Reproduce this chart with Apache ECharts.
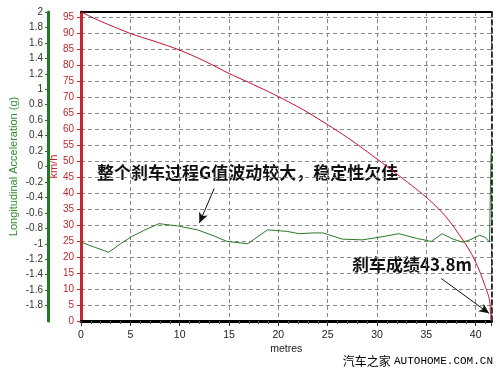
<!DOCTYPE html>
<html><head><meta charset="utf-8">
<script src="https://cdn.jsdelivr.net/npm/echarts@6/dist/echarts.min.js"></script>
<style>html,body{margin:0;padding:0;background:#fff}#c{width:500px;height:370px}</style>
</head><body><div id="c"></div>
<script>
// distance (m) vs speed (km/h)
const speedDist = [0, 2, 5, 7.5, 10, 12.5, 15, 17, 19, 21, 23, 25, 27, 28.5, 30.6, 32.3, 33.9, 35.3, 37, 38.7, 39.6, 40.35, 41, 41.4, 41.5, 41.55];
const speedVals = [96.5, 93.6, 89.8, 87.3, 84.6, 81.2, 77.3, 74.5, 71.6, 68.5, 65.1, 61.3, 57.3, 54.0, 49.2, 45.2, 41.4, 37.8, 32.5, 25.3, 20.8, 15.9, 10.5, 6.6, 2.4, 0];
// distance (m) vs longitudinal acceleration (g)
const gDist = [0, 1.5, 2.8, 4, 5.1, 6.5, 7.9, 9.8, 11.8, 13.5, 14.8, 16.9, 18.9, 20.9, 22.1, 23.5, 24.5, 26.5, 28.5, 30.5, 32.2, 34, 35.5, 36.6, 37.7, 38.7, 39.4, 40.4, 41.0, 41.4, 41.55];
const gVals = [-0.98, -1.05, -1.11, -1.0, -0.91, -0.82, -0.74, -0.77, -0.82, -0.90, -0.97, -1.0, -0.82, -0.84, -0.87, -0.86, -0.86, -0.94, -0.95, -0.91, -0.87, -0.93, -0.97, -0.87, -0.94, -0.98, -0.95, -0.89, -0.92, -0.98, 0.17];
const xTicks = [0, 5, 10, 15, 20, 25, 30, 35, 40];
const annoG = '整个刹车过程G值波动较大，稳定性欠佳';
const annoDist = '刹车成绩43.8m';
const arrowG = [[13.5, -0.285], [12.0, -0.73]];
const arrowDist = [[36.5, 13.3], [41.35, 2.4]];
const xTitle = 'metres', speedTitle = 'km/h', gTitle = 'Longitudinal Acceleration (g)';
const wmCn = '汽车之家', wmEn = 'AUTOHOME.COM.CN';

const XMAX = 41.6, VMAX = 96.5, GMIN = -2, GMAX = 2;
const chart = echarts.init(document.getElementById('c'));
const sans = 'Liberation Sans, Arial, sans-serif';
const cjk = 'Noto Sans CJK SC, sans-serif';
chart.setOption({
  animation: false,
  backgroundColor: '#fff',
  grid: [
    { left: 81, right: 8.5, top: 12, bottom: 49, outerBoundsMode: 'none', containLabel: false },
    { left: 48, width: 33, top: 12, bottom: 49, outerBoundsMode: 'none', containLabel: false }
  ],
  xAxis: [{
    type: 'value', gridIndex: 0, min: 0, max: XMAX, interval: 5,
    name: xTitle, nameLocation: 'middle', nameGap: 23, nameMoveOverlap: false,
    nameTextStyle: { color: '#222', fontFamily: sans, fontSize: 10.5 },
    axisLine: { onZero: false, lineStyle: { color: '#000', width: 3 } },
    axisTick: { show: true, length: 5, lineStyle: { color: '#333' } },
    minorTick: { show: true, splitNumber: 5, length: 3, lineStyle: { color: '#555' } },
    axisLabel: { color: '#222', fontFamily: sans, fontSize: 10.5, margin: 9, showMaxLabel: false,
      formatter: v => xTicks.indexOf(v) >= 0 ? String(v) : '' },
    splitLine: { show: true, lineStyle: { color: '#888', type: [4, 3], width: 1 } }
  }, {
    type: 'value', gridIndex: 0, min: 0, max: XMAX, position: 'top',
    axisLine: { show: true, onZero: false, lineStyle: { color: '#000', width: 2 } },
    axisTick: { show: false }, axisLabel: { show: false }, splitLine: { show: false }
  }, {
    type: 'value', gridIndex: 1, min: 0, max: 1, show: false
  }],
  yAxis: [{
    type: 'value', gridIndex: 0, min: 0, max: VMAX, interval: 5, position: 'left',
    name: speedTitle, nameLocation: 'middle', nameGap: 22, nameMoveOverlap: false,
    nameTextStyle: { color: '#c0282e', fontFamily: sans, fontSize: 11 },
    axisLine: { show: true, onZero: false, lineStyle: { color: '#c8262c', width: 3 } },
    axisTick: { show: true, length: 4, lineStyle: { color: '#c8262c' } },
    axisLabel: { color: '#c0282e', fontFamily: sans, fontSize: 10, margin: 7, showMaxLabel: false },
    splitLine: { show: true, lineStyle: { color: '#888', type: [4, 3], width: 1 } }
  }, {
    type: 'value', gridIndex: 0, min: GMIN, max: GMAX, show: false
  }, {
    type: 'value', gridIndex: 0, min: 0, max: VMAX, position: 'right',
    axisLine: { show: true, onZero: false, lineStyle: { color: '#000', width: 1.5, type: [5, 3] } },
    axisTick: { show: false }, axisLabel: { show: false }, splitLine: { show: false }
  }, {
    type: 'value', gridIndex: 1, min: GMIN, max: GMAX, interval: 0.2, position: 'left',
    name: gTitle, nameLocation: 'middle', nameGap: 29, nameMoveOverlap: false,
    nameTextStyle: { color: '#2e8b2e', fontFamily: sans, fontSize: 11 },
    axisLine: { show: true, onZero: false, lineStyle: { color: '#1e7a1e', width: 3 } },
    axisTick: { show: true, length: 3, lineStyle: { color: '#1e7a1e' } },
    axisLabel: { color: '#333', fontFamily: sans, fontSize: 10, margin: 5, showMinLabel: false,
      formatter: v => String(Math.round(v * 10) / 10) },
    splitLine: { show: false }
  }],
  series: [{
    type: 'line', xAxisIndex: 0, yAxisIndex: 0, showSymbol: false, smooth: 0.3,
    lineStyle: { color: '#c8102e', width: 1 },
    data: speedDist.map((d, i) => [d, speedVals[i]]),
    markLine: { silent: true, symbol: ['none', 'arrow'], symbolSize: [7, 10],
      label: { show: false }, lineStyle: { color: '#111', width: 1, type: 'solid' },
      data: [[{ coord: arrowDist[0] }, { coord: arrowDist[1] }]] }
  }, {
    type: 'line', xAxisIndex: 0, yAxisIndex: 1, showSymbol: false,
    lineStyle: { color: '#2a7a2a', width: 1 },
    data: gDist.map((d, i) => [d, gVals[i]]),
    markLine: { silent: true, symbol: ['none', 'arrow'], symbolSize: [7, 10],
      label: { show: false }, lineStyle: { color: '#111', width: 1, type: 'solid' },
      data: [[{ coord: arrowG[0] }, { coord: arrowG[1] }]] }
  }],
  graphic: [
    { type: 'text', left: 97, top: 164, style: { text: annoG, font: 'bold 17px ' + cjk, fill: '#111' } },
    { type: 'text', left: 352, top: 256, style: { text: annoDist, font: 'bold 17px ' + cjk, fill: '#111' } },
    { type: 'text', right: 7, top: 355, style: {
      text: '{a|' + wmCn + '} {b|' + wmEn + '}',
      rich: { a: { fontFamily: cjk, fontSize: 12, color: '#111' },
              b: { fontFamily: 'Liberation Mono, monospace', fontSize: 11, color: '#111' } } } }
  ]
});
</script></body></html>
